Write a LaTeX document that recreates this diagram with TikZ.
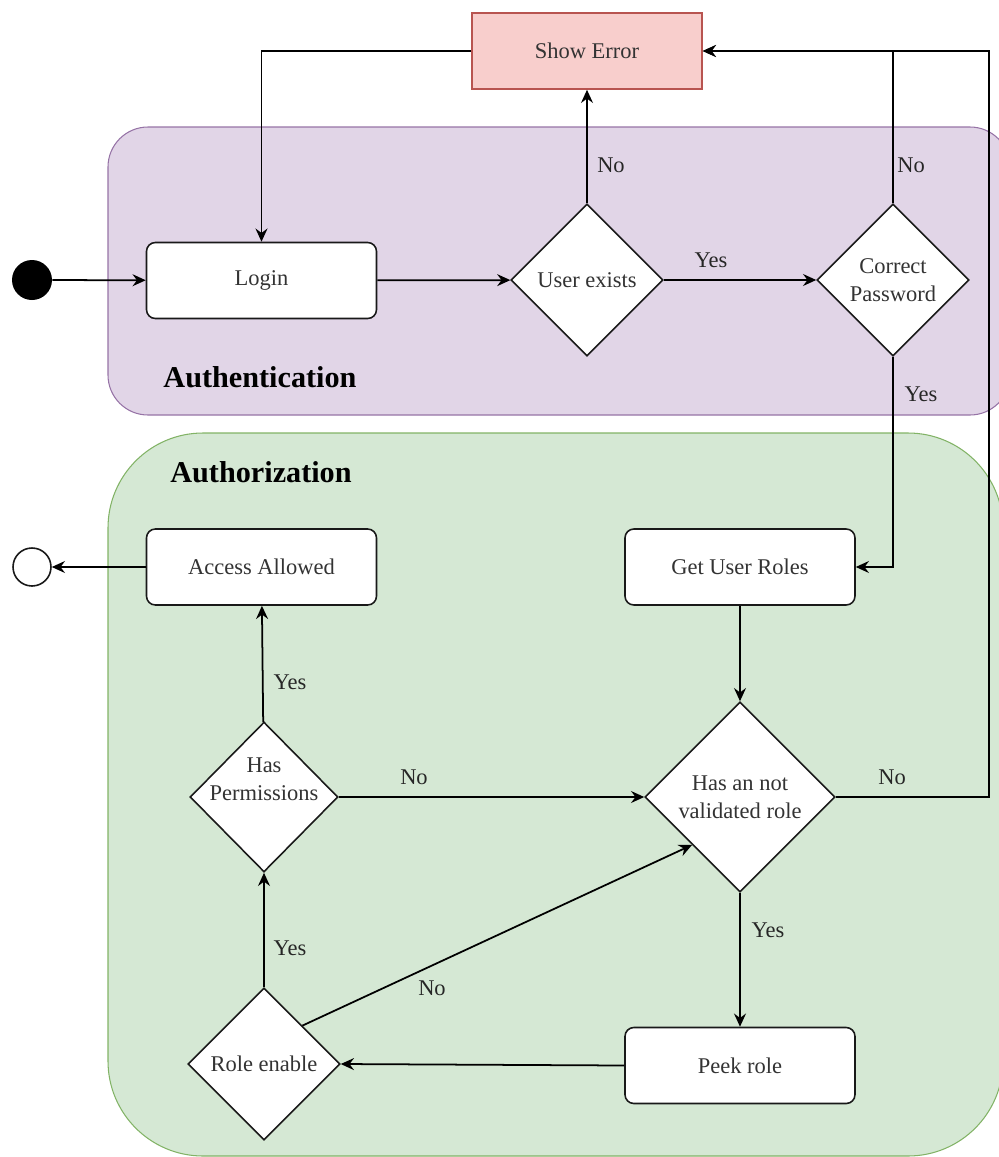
\documentclass[tikz,border=0pt]{standalone}
\usepackage{fontspec}
\setmainfont{Liberation Serif}
\usetikzlibrary{arrows.meta,shapes.geometric}
\definecolor{authfill}{HTML}{E1D5E7}
\definecolor{authline}{HTML}{9673A6}
\definecolor{rolefill}{HTML}{D5E8D4}
\definecolor{roleline}{HTML}{82B366}
\definecolor{errfill}{HTML}{F8CECC}
\definecolor{errline}{HTML}{B85450}
\tikzset{
  box/.style={draw=black!90, fill=white, rounded corners=5pt, line width=0.9pt, minimum width=4.6cm, minimum height=1.52cm, text=black!80},
  decision/.style={diamond, draw=black!90, fill=white, line width=0.9pt, inner sep=-4pt, minimum width=3.04cm, minimum height=3.04cm, align=center, text=black!80},
  flow/.style={-{Stealth[length=7.5pt,width=6.8pt,inset=2.5pt]}, line width=1pt},
  lbl/.style={text=black!85},
  title/.style={font=\fontsize{17.2}{20}\selectfont\bfseries},
}
\begin{document}
\begin{tikzpicture}[x=0.02cm, y=-0.02cm, font=\fontsize{12.8}{15.9}\selectfont]
    \useasboundingbox (0,0) rectangle (999,1157);
    \clip (0,0) rectangle (999,1157);
    \draw[fill=authfill, draw=authline, line width=0.6pt, rounded corners=0.8cm] (108,127) rectangle (1010,415);
    \draw[fill=rolefill, draw=roleline, line width=0.6pt, rounded corners=1.9cm] (108,433) rectangle (1003,1156);
    \node[title] (authn) at (260,377) {Authentication};
    \node[title] (authz) at (261,472) {Authorization};
    \node[draw=errline, fill=errfill, line width=0.9pt, minimum width=4.6cm, minimum height=1.52cm, text=black!80] (err) at (587,51) {Show Error};
    \node[circle, fill=black, minimum size=0.8cm, inner sep=0pt] (start) at (32,280) {};
    \node[box] (login) at (261.5,280.5) {Login};
    \node[decision] (uex) at (587,280) {User exists};
    \node[decision] (pwd) at (893,280) {Correct\\Password};
    \node[box] (roles) at (740,567) {Get User Roles};
    \node[decision, minimum width=3.8cm, minimum height=3.8cm] (valid) at (740,797) {Has an not\\validated role};
    \node[box] (peek) at (740,1065.5) {Peek role};
    \node[decision] (enable) at (264,1064) {Role enable};
    \node[decision, inner sep=-30pt, minimum width=2.96cm, minimum height=3cm] (perm) at (264,797) {Has\\Permissions\\\strut};
    \node[box] (allowed) at (261.5,567) {Access Allowed};
    \node[circle, draw=black!90, fill=white, line width=0.9pt, minimum size=0.76cm, inner sep=0pt] (stop) at (32,567) {};
    \coordinate (rt) at (989,51);
    \draw[flow] (start) -- (login);
    \draw[flow] (login) -- (uex);
    \draw[flow] (uex) -- (pwd);
    \draw[flow] (uex) -- (err);
    \draw[flow] (pwd.north) |- (err.east);
    \draw[flow] (err.west) -| (login.north);
    \draw[flow] (pwd.south) |- (roles.east);
    \draw[flow] (valid.east) -| (rt) -- (err.east);
    \draw[flow] (roles) -- (valid);
    \draw[flow] (valid) -- (peek);
    \draw[flow] (peek.west) -- (enable.east);
    \draw[flow] (enable) -- (perm);
    \draw[flow] (enable.north east) -- (valid.south west);
    \draw[flow] (perm) -- (valid);
    \draw[flow] (perm) -- (allowed);
    \draw[flow] (allowed) -- (stop);
    \node[lbl] (uexno) at (611,165) {No};
    \node[lbl] (pwdno) at (911,165) {No};
    \node[lbl] (uexyes) at (711,260) {Yes};
    \node[lbl] (pwdyes) at (921,394) {Yes};
    \node[lbl] (validno) at (892,777) {No};
    \node[lbl] (validyes) at (768,930) {Yes};
    \node[lbl] (permno) at (414,777) {No};
    \node[lbl] (enableno) at (432,988) {No};
    \node[lbl] (enableyes) at (290,948) {Yes};
    \node[lbl] (permyes) at (290,682) {Yes};
\end{tikzpicture}
\end{document}
